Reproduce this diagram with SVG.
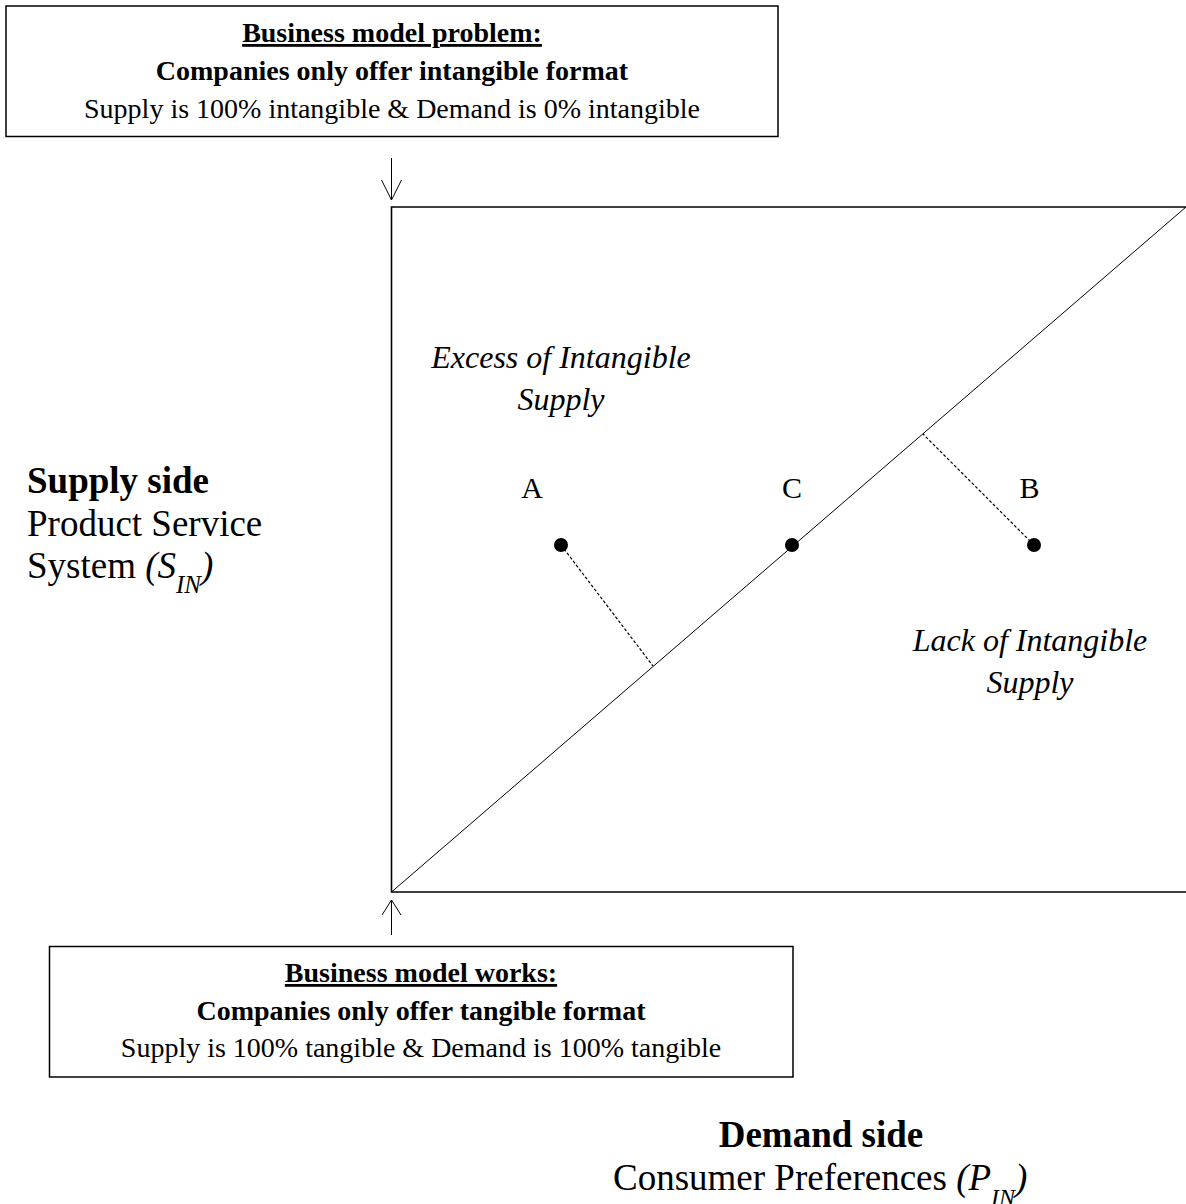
<svg xmlns="http://www.w3.org/2000/svg" width="1186" height="1204" viewBox="0 0 1186 1204">
<style>
text{font-family:"Liberation Serif","Times New Roman",serif;fill:#000}
.b28{font-size:28px;font-weight:bold}
.r28{font-size:28px}
.u{text-decoration:underline}
.big{font-size:37px}
.bold{font-weight:bold}
.it{font-style:italic}
.lab{font-size:30px}
.ilab{font-size:32px;font-style:italic}
.box{fill:#fff;stroke:#000;stroke-width:1.5}
.ax{fill:none;stroke:#000;stroke-width:1.6}
.diag{stroke:#000;stroke-width:1}
.dash{stroke:#000;stroke-width:1.2;stroke-dasharray:3 2}
.arr{fill:none;stroke:#000;stroke-width:1}
</style>
<g id="problem-box">
<rect class="box" x="6" y="6" width="772" height="130.5"/>
<text class="b28 u" x="392" y="42" text-anchor="middle">Business model problem:</text>
<text class="b28" x="392" y="80" text-anchor="middle">Companies only offer intangible format</text>
<text class="r28" x="392" y="118" text-anchor="middle">Supply is 100% intangible &amp; Demand is 0% intangible</text>
</g>
<g id="works-box">
<rect class="box" x="49.5" y="946.5" width="743.5" height="130.5"/>
<text class="b28 u" x="421" y="982" text-anchor="middle">Business model works:</text>
<text class="b28" x="421" y="1020" text-anchor="middle">Companies only offer tangible format</text>
<text class="r28" x="421" y="1057" text-anchor="middle">Supply is 100% tangible &amp; Demand is 100% tangible</text>
</g>
<g id="chart">
<polyline class="ax" points="1190,207 391.5,207 391.5,892 1190,892"/>
<line class="diag" x1="391.5" y1="892" x2="1186" y2="207"/>
</g>
<g id="connectors">
<line class="arr" x1="391.5" y1="158" x2="391.5" y2="200"/>
<polyline class="arr" points="381.5,180 391.5,200 401.5,180"/>
<line class="arr" x1="391.5" y1="935" x2="391.5" y2="900"/>
<polyline class="arr" points="382,915 391.5,900 401,915"/>
<line class="dash" x1="561" y1="545" x2="653" y2="666"/>
<line class="dash" x1="1034" y1="545" x2="923" y2="434"/>
</g>
<g id="point-A">
<circle cx="561" cy="545" r="7"/>
<text class="lab" x="532" y="498" text-anchor="middle">A</text>
</g>
<g id="point-C">
<circle cx="792" cy="545" r="7"/>
<text class="lab" x="792" y="498" text-anchor="middle">C</text>
</g>
<g id="point-B">
<circle cx="1034" cy="545" r="7"/>
<text class="lab" x="1029.5" y="498" text-anchor="middle">B</text>
</g>
<g id="excess-label">
<text class="ilab" x="561" y="368" text-anchor="middle">Excess of Intangible</text>
<text class="ilab" x="561" y="410" text-anchor="middle">Supply</text>
</g>
<g id="lack-label">
<text class="ilab" x="1030" y="651" text-anchor="middle">Lack of Intangible</text>
<text class="ilab" x="1030" y="693" text-anchor="middle">Supply</text>
</g>
<g id="supply-side">
<text class="big bold" x="27" y="493">Supply side</text>
<text class="big" x="27" y="536">Product Service</text>
<text class="big" x="27" y="578">System <tspan class="it">(S</tspan><tspan class="it" font-size="25" dy="15">IN</tspan><tspan class="it" dy="-15">)</tspan></text>
</g>
<g id="demand-side">
<text class="big bold" x="821" y="1147" text-anchor="middle">Demand side</text>
<text class="big" x="613" y="1190">Consumer Preferences <tspan class="it">(P</tspan><tspan class="it" font-size="24" dy="15">IN</tspan><tspan class="it" dy="-15">)</tspan></text>
</g>
</svg>
